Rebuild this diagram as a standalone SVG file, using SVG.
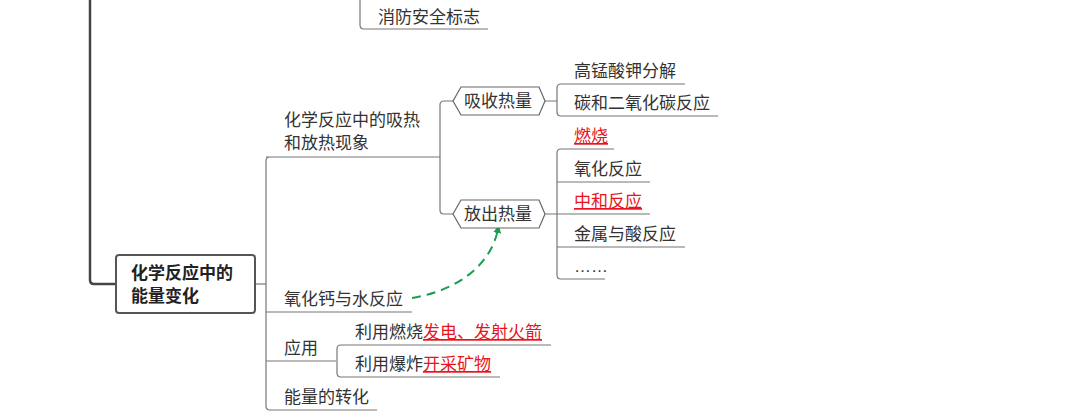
<svg xmlns="http://www.w3.org/2000/svg" width="1080" height="415" viewBox="0 0 1080 415">
<defs>
<style>
.t{font-family:"Liberation Sans","Noto Sans CJK SC",sans-serif;font-size:17px;fill:#333}
.r{fill:#e8141b;text-decoration:underline}
.l{fill:none;stroke:#777;stroke-width:1.2}
.hex{fill:#fff;stroke:#666;stroke-width:1.2}
</style>
<marker id="ga" markerWidth="8" markerHeight="8" refX="4" refY="4" orient="auto" markerUnits="userSpaceOnUse"><path d="M0,0 L8,4 L0,8 Z" fill="#1a9e4f"/></marker>
</defs>
<rect width="1080" height="415" fill="#fff"/>
<g id="connectors">
<path d="M90,0 V280 Q90,284 94,284 H116" fill="none" stroke="#444" stroke-width="2.5"/>
<path class="l" d="M360,0 V25 Q360,29 364,29 H488"/>
<path class="l" d="M255,284 H266"/>
<path class="l" d="M440,157 H266 M270,157 Q266,157 266,161 V406 Q266,410 270,410 H377"/>
<path class="l" d="M266,312 H412 M266,361 H336"/>
<path class="l" d="M440,157 V105 Q440,101 444,101 H453 M440,157 V210 Q440,214 444,214 H453"/>
<path class="l" d="M341,345 H551 M341,345 Q337,345 337,349 V373 Q337,377 341,377 H500"/>
<path class="l" d="M545,101 H557 M561,84 H685 M561,84 Q557,84 557,88 V112 Q557,116 561,116 H718"/>
<path class="l" d="M545,214 H650 M561,149 H614 M561,149 Q557,149 557,153 V275 Q557,279 561,279 H605 M557,182 H650 M557,247 H685"/>
<path d="M412,298 C450,292 490,270 498,229" fill="none" stroke="#1a9e4f" stroke-width="2" stroke-dasharray="9,6" marker-end="url(#ga)"/>
</g>
<g id="top"><text class="t" x="378" y="23">消防安全标志</text></g>
<g id="root"><rect x="116" y="255" width="139" height="58" rx="3" fill="#fff" stroke="#555" stroke-width="2"/>
<text class="t" x="131" y="279" style="font-weight:bold;fill:#222">化学反应中的</text>
<text class="t" x="131" y="302" style="font-weight:bold;fill:#222">能量变化</text></g>
<g id="n1"><text class="t" x="284" y="126">化学反应中的吸热</text><text class="t" x="284" y="149">和放热现象</text></g>
<g id="n2"><text class="t" x="284" y="305">氧化钙与水反应</text></g>
<g id="n3"><text class="t" x="284" y="354">应用</text></g>
<g id="n4"><text class="t" x="284" y="403">能量的转化</text></g>
<g id="n5"><text class="t" x="355" y="338">利用燃烧<tspan class="r">发电、发射火箭</tspan></text></g>
<g id="n6"><text class="t" x="355" y="370">利用爆炸<tspan class="r">开采矿物</tspan></text></g>
<g id="h1"><path class="hex" d="M461,87 H539 L545,101 L539,115 H461 L453,101 Z"/><text class="t" x="464" y="107">吸收热量</text></g>
<g id="h2"><path class="hex" d="M461,200 H539 L545,214 L539,228 H461 L453,214 Z"/><text class="t" x="464" y="220">放出热量</text></g>
<g id="a1"><text class="t" x="574" y="77">高锰酸钾分解</text></g>
<g id="a2"><text class="t" x="574" y="109">碳和二氧化碳反应</text></g>
<g id="b1"><text class="t r" x="574" y="142">燃烧</text></g>
<g id="b2"><text class="t" x="574" y="175">氧化反应</text></g>
<g id="b3"><text class="t r" x="574" y="207">中和反应</text></g>
<g id="b4"><text class="t" x="574" y="240">金属与酸反应</text></g>
<g id="b5"><text class="t" x="574" y="272">……</text></g>
</svg>
